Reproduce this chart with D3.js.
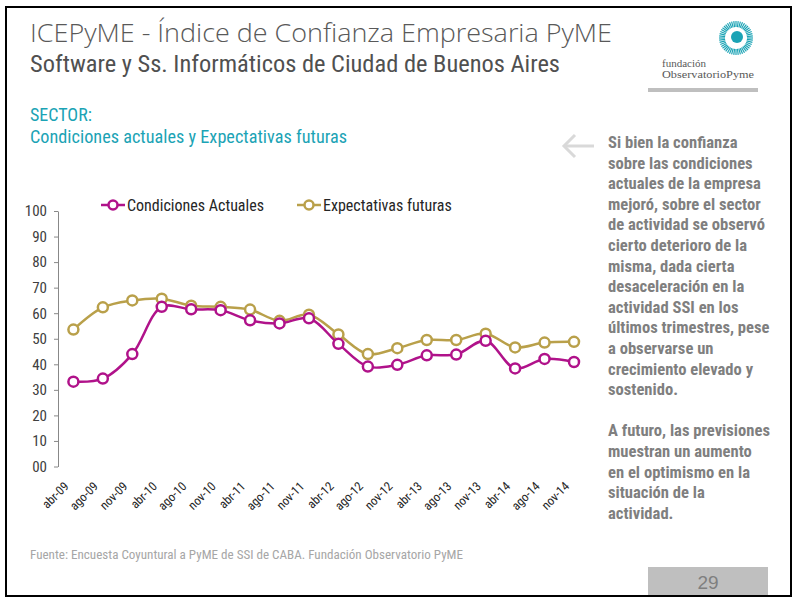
<!DOCTYPE html>
<html><head><meta charset="utf-8">
<script src="https://cdn.jsdelivr.net/npm/d3@7/dist/d3.min.js"></script>
<style>
html,body{margin:0;padding:0;background:#fff;}
svg{display:block;}
</style></head>
<body>
<svg id="c" width="793" height="598"></svg>
<script>
const categories = ["abr-09","ago-09","nov-09","abr-10","ago-10","nov-10","abr-11","ago-11","nov-11","abr-12","ago-12","nov-12","abr-13","ago-13","nov-13","abr-14","ago-14","nov-14"];
const condicionesActuales = [33.2,34.4,44.0,62.5,61.5,61.2,57.2,56.0,58.0,48.0,39.1,39.8,43.5,43.8,49.2,38.4,42.1,40.9];
const expectativasFuturas = [53.6,62.3,65.0,65.7,62.9,62.5,61.4,57.0,59.4,51.7,44.0,46.3,49.5,49.5,52.0,46.6,48.5,48.8];
const yTicks = [0,10,20,30,40,50,60,70,80,90,100];
const seriesNames = ["Condiciones Actuales","Expectativas futuras"];
const bodyLines = ["Si bien la confianza","sobre las condiciones","actuales de la empresa","mejoró, sobre el sector","de actividad se observó","cierto deterioro de la","misma, dada cierta","desaceleración en la","actividad SSI en los","últimos trimestres, pese","a observarse un","crecimiento elevado y","sostenido.","","A futuro, las previsiones","muestran un aumento","en el optimismo en la","situación de la","actividad."];

const NARROW = '"Liberation Sans Narrow","Arial Narrow","Roboto Condensed",sans-serif';
const svg = d3.select("#c");
const MAG = "#B0128A", GOLD = "#B9A04A", TEAL = "#1BA3B5";

// frame
svg.append("rect").attr("x",6).attr("y",7).attr("width",785).attr("height",589)
  .attr("fill","none").attr("stroke","#000").attr("stroke-width",2);

// titles
svg.append("text").attr("x",30).attr("y",42).attr("font-family",'"Open Sans",sans-serif').attr("font-weight",300)
  .attr("font-size",25).attr("fill","#595959").attr("textLength",582).attr("lengthAdjust","spacingAndGlyphs")
  .text("ICEPyME - Índice de Confianza Empresaria PyME");
svg.append("text").attr("x",30).attr("y",72).attr("font-family",NARROW)
  .attr("font-size",23).attr("fill","#505050").attr("textLength",530).attr("lengthAdjust","spacingAndGlyphs")
  .text("Software y Ss. Informáticos de Ciudad de Buenos Aires");

// logo
const lg = svg.append("g").attr("transform","translate(736,38)");
for(let i=0;i<48;i++){
  const a = i/48*2*Math.PI;
  lg.append("line").attr("x1",11*Math.cos(a)).attr("y1",11*Math.sin(a))
    .attr("x2",17*Math.cos(a)).attr("y2",17*Math.sin(a)).attr("stroke",TEAL).attr("stroke-width",1.2);
}
lg.append("circle").attr("cx",1).attr("cy",-1).attr("r",6).attr("fill",TEAL);
svg.append("text").attr("x",662).attr("y",67).attr("font-family",'"Liberation Serif",serif').attr("font-size",11).attr("fill","#595959").text("fundación");
svg.append("text").attr("x",662).attr("y",78).attr("font-family",'"Liberation Serif",serif').attr("font-size",11).attr("fill","#595959")
  .attr("textLength",92).attr("lengthAdjust","spacingAndGlyphs").text("ObservatorioPyme");
svg.append("rect").attr("x",648).attr("y",88).attr("width",110).attr("height",4).attr("fill","#BFBFBF");

// section titles
svg.append("text").attr("x",30).attr("y",121).attr("font-family",NARROW).attr("font-size",18).attr("fill",TEAL).text("SECTOR:");
svg.append("text").attr("x",30).attr("y",143).attr("font-family",NARROW).attr("font-size",18).attr("fill",TEAL)
  .attr("textLength",317).attr("lengthAdjust","spacingAndGlyphs").text("Condiciones actuales y Expectativas futuras");

// arrow
const ar = svg.append("g").attr("stroke","#D9D9D9").attr("stroke-width",3).attr("fill","none");
ar.append("line").attr("x1",564).attr("y1",146).attr("x2",594).attr("y2",146);
ar.append("polyline").attr("points","575,135 564,146 575,157");

// body text
const bt = svg.append("text").attr("font-family",NARROW).attr("font-weight","bold").attr("font-size",16.6).attr("fill","#7F7F7F");
bodyLines.forEach((l,i)=>{ if(l) bt.append("tspan").attr("x",608).attr("y",148+i*20.6).text(l); });

// chart
const x = d3.scalePoint().domain(categories).range([73.4,574]);
const y = d3.scaleLinear().domain([0,100]).range([466.5,211]);

const yAx = svg.append("g").attr("transform","translate(58,0)")
  .call(d3.axisLeft(y).tickValues(yTicks).tickSize(4).tickSizeOuter(0).tickPadding(7).tickFormat(d=>d===0?"00":d));
yAx.select(".domain").attr("stroke","#888");
yAx.selectAll(".tick line").attr("stroke","#888");
yAx.selectAll("text").attr("font-family",NARROW).attr("font-size",15).attr("fill","#404040");

// x labels
svg.append("g").selectAll("text").data(categories).join("text")
  .attr("transform",d=>`translate(${x(d)-7},${484}) rotate(-45)`)
  .attr("text-anchor","end").attr("dy","0.35em")
  .attr("font-family",NARROW).attr("font-size",12.5).attr("fill","#262626").text(d=>d);

const line = d3.line().x((d,i)=>x(categories[i])).y(d=>y(d)).curve(d3.curveCatmullRom.alpha(0.5));
[[expectativasFuturas,GOLD],[condicionesActuales,MAG]].forEach(([vals,col])=>{
  svg.append("path").attr("d",line(vals)).attr("fill","none").attr("stroke",col).attr("stroke-width",2.5);
  svg.append("g").selectAll("circle").data(vals).join("circle")
    .attr("cx",(d,i)=>x(categories[i])).attr("cy",d=>y(d)).attr("r",5)
    .attr("fill","#fff").attr("stroke",col).attr("stroke-width",2.5);
});

// legend
const legend = [[seriesNames[0],MAG,101],[seriesNames[1],GOLD,297]];
legend.forEach(([name,col,lx])=>{
  svg.append("line").attr("x1",lx).attr("x2",lx+24).attr("y1",205).attr("y2",205).attr("stroke",col).attr("stroke-width",2.5);
  svg.append("circle").attr("cx",lx+12).attr("cy",205).attr("r",4.5).attr("fill","#fff").attr("stroke",col).attr("stroke-width",2.5);
  svg.append("text").attr("x",lx+26).attr("y",210.5).attr("font-family",NARROW).attr("font-size",16).attr("fill","#262626").text(name);
});

// footer
svg.append("text").attr("x",30).attr("y",559).attr("font-family",NARROW).attr("font-size",12.5).attr("fill","#A6A6A6")
  .attr("textLength",433).attr("lengthAdjust","spacingAndGlyphs")
  .text("Fuente: Encuesta Coyuntural a PyME de SSI de CABA. Fundación Observatorio PyME");

// page number
svg.append("rect").attr("x",648).attr("y",567).attr("width",120).attr("height",28).attr("fill","#BFBFBF");
svg.append("text").attr("x",708).attr("y",589).attr("text-anchor","middle").attr("font-family",'"Liberation Sans",sans-serif')
  .attr("font-size",19).attr("fill","#7F7F7F").text("29");
</script>
</body></html>
